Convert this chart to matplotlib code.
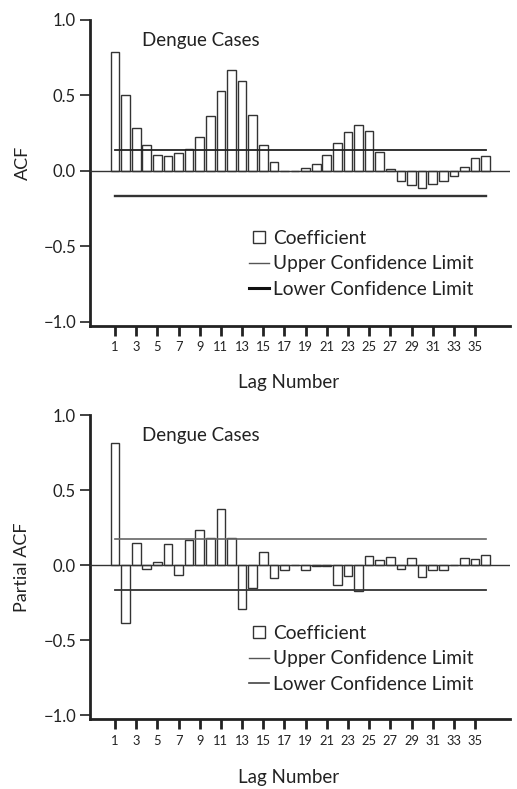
import matplotlib
matplotlib.use("Agg")
import matplotlib.pyplot as plt
from matplotlib.lines import Line2D
import numpy as np

plt.rcParams['font.family'] = ['Lato', 'DejaVu Sans']

lags = list(range(1, 37))
acf_values = [0.79, 0.50, 0.285, 0.169, 0.105, 0.099, 0.121, 0.147, 0.226, 0.362,
              0.531, 0.671, 0.599, 0.368, 0.169, 0.062, 0.0, 0.0, 0.020, 0.046,
              0.103, 0.186, 0.261, 0.305, 0.265, 0.125, 0.011, -0.064, -0.090, -0.114,
              -0.086, -0.066, -0.031, 0.024, 0.086, 0.101]
pacf_values = [0.815, -0.388, 0.145, -0.024, 0.020, 0.141, -0.066, 0.167, 0.236, 0.181,
               0.374, 0.181, -0.291, -0.156, 0.088, -0.084, -0.035, 0.0, -0.031, -0.005,
               -0.005, -0.134, -0.073, -0.172, 0.057, 0.031, 0.055, -0.029, 0.044, -0.079,
               -0.031, -0.035, 0.0, 0.044, 0.042, 0.068]
acf_upper, acf_lower = 0.137, -0.167
pacf_upper, pacf_lower = 0.172, -0.167
xtick_vals = list(range(1, 37, 2))
ytick_vals = [-1.0, -0.5, 0.0, 0.5, 1.0]
ytick_labels = ['\u22121.0', '\u22120.5', '0.0', '0.5', '1.0']
title_text = 'Dengue Cases'
legend_labels = ['Coefficient', 'Upper Confidence Limit', 'Lower Confidence Limit']

W, H = 517, 789
fig = plt.figure(figsize=(W / 100, H / 100), dpi=100)

TXT = '#222222'
EDGE = '#333333'


def fx(px):
    return px / W


def fy(py):
    return 1 - py / H


def make_panel(top_px, bot_px, ybottom, values, upper, lower, ylabel, ylabel_y,
               title_y, xlabel_y, legend_top, upper_style, lower_style, leg_styles):
    ax = fig.add_axes([fx(90), fy(bot_px), fx(510) - fx(90), fy(top_px) - fy(bot_px)])
    ax.bar(lags, values, width=0.82, facecolor='white', edgecolor=EDGE, linewidth=1.0, zorder=2)
    ax.axhline(0, color=EDGE, lw=1.0, zorder=3)
    ax.plot([lags[0], lags[-1]], [upper, upper], zorder=4, **upper_style)
    ax.plot([lags[0], lags[-1]], [lower, lower], zorder=4, **lower_style)
    ax.set_xlim(-1.36, 38.3)
    ax.set_ylim(ybottom, 1.0)
    for s in ['top', 'right']:
        ax.spines[s].set_visible(False)
    for s in ['left', 'bottom']:
        ax.spines[s].set_linewidth(2.0)
        ax.spines[s].set_color('#222222')
    ax.spines['left'].set_bounds(ybottom, 1.0)
    ax.set_xticks(xtick_vals)
    ax.set_xticklabels([str(v) for v in xtick_vals], fontsize=9.3, color=TXT)
    ax.set_yticks(ytick_vals)
    ax.set_yticklabels(ytick_labels, fontsize=12, color=TXT)
    ax.tick_params(axis='x', direction='out', length=7, width=2.0, pad=4, color='#222222')
    ax.tick_params(axis='y', direction='out', length=7, width=1.2, pad=3, color='#222222')
    fig.text(fx(22.5), fy(ylabel_y), ylabel, rotation=90, ha='center', va='center',
             fontsize=13, color=TXT)
    fig.text(fx(142.5), fy(title_y), title_text, ha='left', va='center', fontsize=13.5, color=TXT)
    fig.text(fx(288.8), fy(xlabel_y), 'Lag Number', ha='center', va='center', fontsize=13.5, color=TXT)
    handles = [Line2D([], [], marker='s', linestyle='none', markersize=8.4,
                      markerfacecolor='white', markeredgecolor=EDGE, markeredgewidth=1.0),
               Line2D([], [], **leg_styles[0]),
               Line2D([], [], **leg_styles[1])]
    ax.legend(handles, legend_labels, loc='upper left',
              bbox_to_anchor=(fx(249), fy(legend_top)), bbox_transform=fig.transFigure,
              frameon=False, fontsize=13.8, borderpad=0, borderaxespad=0,
              handlelength=1.05, handletextpad=0.2, labelspacing=0.44,
              labelcolor=TXT)
    return ax


make_panel(20, 325.7, -1.025, acf_values, acf_upper, acf_lower, 'ACF', 162.5,
           40.7, 382.7, 230,
           dict(color='#222222', lw=1.3), dict(color='#333333', lw=1.7),
           [dict(color='#555555', lw=1.0), dict(color='#111111', lw=2.2)])
make_panel(415, 719.3, -1.028, pacf_values, pacf_upper, pacf_lower, 'Partial ACF', 567.5,
           435.7, 778, 625,
           dict(color='#666666', lw=1.2), dict(color='#333333', lw=1.3),
           [dict(color='#555555', lw=1.0), dict(color='#444444', lw=1.2)])

fig.savefig('out.png', dpi=100)
